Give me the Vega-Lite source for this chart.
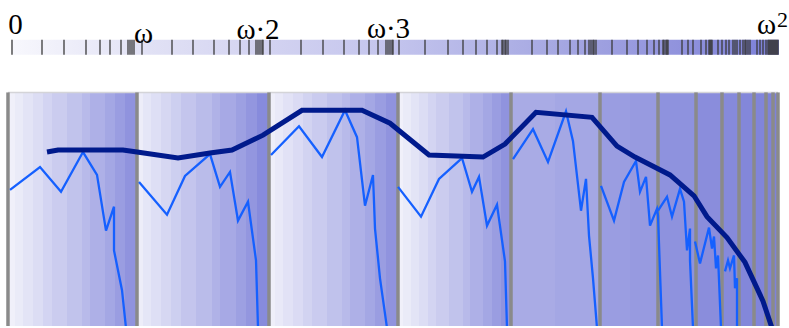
{
  "$schema": "https://vega.github.io/schema/vega-lite/v6.json",
  "width": 789,
  "height": 328,
  "autosize": {"type": "fit", "contains": "padding"},
  "padding": 0,
  "view": {"stroke": null},
  "datasets": {
    "stripes": [
      {"a": 10, "b": 15, "s": 0.03}, {"a": 15, "b": 23, "s": 0.08}, {"a": 23, "b": 33, "s": 0.14}, {"a": 33, "b": 43, "s": 0.2},
      {"a": 43, "b": 52, "s": 0.27}, {"a": 52, "b": 67, "s": 0.34}, {"a": 67, "b": 82, "s": 0.42}, {"a": 82, "b": 90, "s": 0.5},
      {"a": 90, "b": 105, "s": 0.58}, {"a": 105, "b": 115, "s": 0.66}, {"a": 115, "b": 125, "s": 0.74}, {"a": 125, "b": 136, "s": 0.83},
      {"a": 138, "b": 143, "s": 0.06}, {"a": 143, "b": 151, "s": 0.12}, {"a": 151, "b": 161, "s": 0.18}, {"a": 161, "b": 171, "s": 0.25},
      {"a": 171, "b": 181, "s": 0.32}, {"a": 181, "b": 196, "s": 0.4}, {"a": 196, "b": 212, "s": 0.48}, {"a": 212, "b": 220, "s": 0.56},
      {"a": 220, "b": 236, "s": 0.64}, {"a": 236, "b": 246, "s": 0.72}, {"a": 246, "b": 257, "s": 0.8}, {"a": 257, "b": 268, "s": 0.9},
      {"a": 270, "b": 275, "s": 0.04}, {"a": 275, "b": 283, "s": 0.09}, {"a": 283, "b": 293, "s": 0.15}, {"a": 293, "b": 303, "s": 0.21},
      {"a": 303, "b": 312, "s": 0.28}, {"a": 312, "b": 327, "s": 0.35}, {"a": 327, "b": 342, "s": 0.43}, {"a": 342, "b": 350, "s": 0.5},
      {"a": 350, "b": 365, "s": 0.58}, {"a": 365, "b": 375, "s": 0.66}, {"a": 375, "b": 386, "s": 0.74}, {"a": 386, "b": 397, "s": 0.83},
      {"a": 399, "b": 403, "s": 0.03}, {"a": 403, "b": 411, "s": 0.08}, {"a": 411, "b": 419, "s": 0.14}, {"a": 419, "b": 428, "s": 0.2},
      {"a": 428, "b": 436, "s": 0.27}, {"a": 436, "b": 449, "s": 0.34}, {"a": 449, "b": 463, "s": 0.42}, {"a": 463, "b": 470, "s": 0.5},
      {"a": 470, "b": 483, "s": 0.58}, {"a": 483, "b": 492, "s": 0.66}, {"a": 492, "b": 501, "s": 0.74}, {"a": 501, "b": 511, "s": 0.83},
      {"a": 511, "b": 555, "s": 0.62}, {"a": 555, "b": 600, "s": 0.66},
      {"a": 600, "b": 630, "s": 0.74}, {"a": 630, "b": 658, "s": 0.77},
      {"a": 658, "b": 696, "s": 0.84}, {"a": 696, "b": 722, "s": 0.88}, {"a": 722, "b": 739, "s": 0.91},
      {"a": 739, "b": 754, "s": 0.93}, {"a": 754, "b": 766, "s": 0.95}, {"a": 766, "b": 778, "s": 0.97}
    ],
    "topticks": [
      {"x": 12}, {"x": 42}, {"x": 64}, {"x": 86}, {"x": 100}, {"x": 110}, {"x": 121}, {"x": 128}, {"x": 130}, {"x": 132}, {"x": 134},
      {"x": 142}, {"x": 172}, {"x": 193}, {"x": 214}, {"x": 229}, {"x": 240}, {"x": 249}, {"x": 256}, {"x": 258}, {"x": 260}, {"x": 262}, {"x": 263},
      {"x": 270}, {"x": 301}, {"x": 323}, {"x": 344}, {"x": 359}, {"x": 369}, {"x": 378}, {"x": 386}, {"x": 388}, {"x": 390}, {"x": 392}, {"x": 393},
      {"x": 399}, {"x": 425}, {"x": 448}, {"x": 463}, {"x": 476}, {"x": 487}, {"x": 497}, {"x": 502}, {"x": 503}, {"x": 505}, {"x": 506},
      {"x": 508}, {"x": 532}, {"x": 547}, {"x": 558}, {"x": 570}, {"x": 578}, {"x": 585}, {"x": 589}, {"x": 591}, {"x": 593}, {"x": 594},
      {"x": 596}, {"x": 612}, {"x": 627}, {"x": 638}, {"x": 647}, {"x": 654}, {"x": 659}, {"x": 663}, {"x": 664}, {"x": 666}, {"x": 667},
      {"x": 668}, {"x": 682}, {"x": 688}, {"x": 693}, {"x": 701}, {"x": 706}, {"x": 709}, {"x": 710}, {"x": 711}, {"x": 712},
      {"x": 718}, {"x": 722}, {"x": 726}, {"x": 729}, {"x": 733}, {"x": 735}, {"x": 737},
      {"x": 740}, {"x": 743}, {"x": 745}, {"x": 746}, {"x": 748}, {"x": 750},
      {"x": 757}, {"x": 760}, {"x": 763}, {"x": 766}, {"x": 768}, {"x": 769}, {"x": 770}, {"x": 771}, {"x": 772}, {"x": 773}, {"x": 774}, {"x": 775}, {"x": 776}, {"x": 777}, {"x": 778}
    ],
    "grays": [
      {"x": 8}, {"x": 137}, {"x": 269}, {"x": 398}, {"x": 511}, {"x": 600}, {"x": 658}, {"x": 696}, {"x": 722}, {"x": 739}, {"x": 754}, {"x": 766}, {"x": 773}, {"x": 778}
    ],
    "thick": [
      {"i": 0, "x": 47, "y": 153}, {"i": 1, "x": 58, "y": 151}, {"i": 2, "x": 123, "y": 151}, {"i": 3, "x": 137, "y": 153},
      {"i": 4, "x": 178, "y": 159}, {"i": 5, "x": 210, "y": 154}, {"i": 6, "x": 232, "y": 151}, {"i": 7, "x": 263, "y": 136},
      {"i": 8, "x": 302, "y": 111}, {"i": 9, "x": 362, "y": 111}, {"i": 10, "x": 390, "y": 124}, {"i": 11, "x": 429, "y": 156},
      {"i": 12, "x": 483, "y": 158}, {"i": 13, "x": 505, "y": 145}, {"i": 14, "x": 536, "y": 113}, {"i": 15, "x": 592, "y": 118},
      {"i": 16, "x": 617, "y": 147}, {"i": 17, "x": 635, "y": 158}, {"i": 18, "x": 670, "y": 176}, {"i": 19, "x": 694, "y": 197},
      {"i": 20, "x": 707, "y": 218}, {"i": 21, "x": 727, "y": 239}, {"i": 22, "x": 745, "y": 264}, {"i": 23, "x": 763, "y": 303},
      {"i": 24, "x": 772, "y": 330}
    ],
    "thin": [
      {"seg": "A", "i": 0, "x": 10, "y": 191}, {"seg": "A", "i": 1, "x": 40, "y": 168}, {"seg": "A", "i": 2, "x": 61, "y": 193},
      {"seg": "A", "i": 3, "x": 83, "y": 153}, {"seg": "A", "i": 4, "x": 97, "y": 176}, {"seg": "A", "i": 5, "x": 106, "y": 232},
      {"seg": "A", "i": 6, "x": 114, "y": 208}, {"seg": "A", "i": 7, "x": 114, "y": 252}, {"seg": "A", "i": 8, "x": 122, "y": 292},
      {"seg": "A", "i": 9, "x": 126, "y": 330},
      {"seg": "B", "i": 0, "x": 139, "y": 183}, {"seg": "B", "i": 1, "x": 167, "y": 216}, {"seg": "B", "i": 2, "x": 185, "y": 177},
      {"seg": "B", "i": 3, "x": 210, "y": 155}, {"seg": "B", "i": 4, "x": 220, "y": 188}, {"seg": "B", "i": 5, "x": 230, "y": 173},
      {"seg": "B", "i": 6, "x": 238, "y": 222}, {"seg": "B", "i": 7, "x": 248, "y": 203}, {"seg": "B", "i": 8, "x": 256, "y": 262},
      {"seg": "B", "i": 9, "x": 258, "y": 330},
      {"seg": "C", "i": 0, "x": 271, "y": 156}, {"seg": "C", "i": 1, "x": 299, "y": 127}, {"seg": "C", "i": 2, "x": 322, "y": 158},
      {"seg": "C", "i": 3, "x": 345, "y": 111}, {"seg": "C", "i": 4, "x": 357, "y": 138}, {"seg": "C", "i": 5, "x": 365, "y": 207},
      {"seg": "C", "i": 6, "x": 373, "y": 176}, {"seg": "C", "i": 7, "x": 375, "y": 230}, {"seg": "C", "i": 8, "x": 380, "y": 280},
      {"seg": "C", "i": 9, "x": 387, "y": 330},
      {"seg": "D", "i": 0, "x": 398, "y": 188}, {"seg": "D", "i": 1, "x": 421, "y": 218}, {"seg": "D", "i": 2, "x": 439, "y": 180},
      {"seg": "D", "i": 3, "x": 462, "y": 159}, {"seg": "D", "i": 4, "x": 472, "y": 193}, {"seg": "D", "i": 5, "x": 479, "y": 178},
      {"seg": "D", "i": 6, "x": 487, "y": 227}, {"seg": "D", "i": 7, "x": 497, "y": 206}, {"seg": "D", "i": 8, "x": 505, "y": 263},
      {"seg": "D", "i": 9, "x": 507, "y": 330},
      {"seg": "E", "i": 0, "x": 513, "y": 160}, {"seg": "E", "i": 1, "x": 533, "y": 130}, {"seg": "E", "i": 2, "x": 548, "y": 163},
      {"seg": "E", "i": 3, "x": 566, "y": 112}, {"seg": "E", "i": 4, "x": 573, "y": 142}, {"seg": "E", "i": 5, "x": 581, "y": 212},
      {"seg": "E", "i": 6, "x": 586, "y": 180}, {"seg": "E", "i": 7, "x": 589, "y": 237}, {"seg": "E", "i": 8, "x": 593, "y": 280},
      {"seg": "E", "i": 9, "x": 597, "y": 330},
      {"seg": "F", "i": 0, "x": 601, "y": 187}, {"seg": "F", "i": 1, "x": 614, "y": 222}, {"seg": "F", "i": 2, "x": 624, "y": 183},
      {"seg": "F", "i": 3, "x": 636, "y": 162}, {"seg": "F", "i": 4, "x": 640, "y": 193}, {"seg": "F", "i": 5, "x": 646, "y": 178},
      {"seg": "F", "i": 6, "x": 650, "y": 227}, {"seg": "F", "i": 7, "x": 657, "y": 210}, {"seg": "F", "i": 8, "x": 658, "y": 217},
      {"seg": "F", "i": 9, "x": 662, "y": 330},
      {"seg": "G", "i": 0, "x": 658, "y": 212}, {"seg": "G", "i": 1, "x": 667, "y": 198}, {"seg": "G", "i": 2, "x": 672, "y": 218},
      {"seg": "G", "i": 3, "x": 680, "y": 190}, {"seg": "G", "i": 4, "x": 684, "y": 203}, {"seg": "G", "i": 5, "x": 687, "y": 252},
      {"seg": "G", "i": 6, "x": 690, "y": 230}, {"seg": "G", "i": 7, "x": 690, "y": 262}, {"seg": "G", "i": 8, "x": 693, "y": 330},
      {"seg": "H", "i": 0, "x": 695, "y": 243}, {"seg": "H", "i": 1, "x": 700, "y": 265}, {"seg": "H", "i": 2, "x": 709, "y": 229},
      {"seg": "H", "i": 3, "x": 712, "y": 250}, {"seg": "H", "i": 4, "x": 714, "y": 238}, {"seg": "H", "i": 5, "x": 716, "y": 270},
      {"seg": "H", "i": 6, "x": 718, "y": 257}, {"seg": "H", "i": 7, "x": 721, "y": 330},
      {"seg": "I", "i": 0, "x": 725, "y": 273}, {"seg": "I", "i": 1, "x": 728, "y": 262}, {"seg": "I", "i": 2, "x": 730, "y": 270},
      {"seg": "I", "i": 3, "x": 734, "y": 257}, {"seg": "I", "i": 4, "x": 735, "y": 290}, {"seg": "I", "i": 5, "x": 737, "y": 280},
      {"seg": "I", "i": 6, "x": 737, "y": 330}
    ],
    "labels": [
      {"x": 15.5, "y": 34, "t": "0"},
      {"x": 143.5, "y": 43, "t": "ω"},
      {"x": 258, "y": 39, "t": "ω·2"},
      {"x": 388.5, "y": 38.5, "t": "ω·3"},
      {"x": 766.5, "y": 34, "t": "ω"}
    ],
    "sup": [
      {"x": 782.5, "y": 27, "t": "2"}
    ]
  },
  "layer": [
    {
      "data": {"name": "stripes"},
      "mark": {"type": "rect"},
      "encoding": {
        "x": {"field": "a", "type": "quantitative", "scale": {"domain": [0, 789], "nice": false, "zero": false}, "axis": null},
        "x2": {"field": "b"},
        "y": {"datum": 93, "type": "quantitative", "scale": {"domain": [0, 328], "reverse": true, "nice": false, "zero": false}, "axis": null},
        "y2": {"datum": 328},
        "color": {"field": "s", "type": "quantitative", "scale": {"domain": [0, 1], "range": ["#f4f4fb", "#7b7fd8"], "interpolate": "rgb"}, "legend": null}
      }
    },
    {
      "data": {"values": [{"a": 8, "b": 778}]},
      "mark": {"type": "rule", "color": "#d4d4d8", "strokeWidth": 1.5},
      "encoding": {
        "x": {"field": "a", "type": "quantitative"},
        "x2": {"field": "b"},
        "y": {"datum": 93, "type": "quantitative"}
      }
    },
    {
      "data": {"name": "grays"},
      "mark": {"type": "rule", "color": "#8a8a8a", "strokeWidth": 3.5},
      "encoding": {
        "x": {"field": "x", "type": "quantitative"},
        "y": {"datum": 93, "type": "quantitative"},
        "y2": {"datum": 328}
      }
    },
    {
      "data": {"values": [{"a": 11, "b": 779}]},
      "mark": {
        "type": "rect",
        "color": {
          "gradient": "linear", "x1": 0, "x2": 1, "y1": 0, "y2": 0,
          "stops": [
            {"offset": 0, "color": "#f8f8fd"},
            {"offset": 0.17, "color": "#e2e2f5"},
            {"offset": 0.33, "color": "#d3d3f1"},
            {"offset": 0.5, "color": "#c3c4ed"},
            {"offset": 0.65, "color": "#aeb0e5"},
            {"offset": 0.76, "color": "#9fa1e0"},
            {"offset": 0.86, "color": "#9294dd"},
            {"offset": 1, "color": "#7b7fd8"}
          ]
        }
      },
      "encoding": {
        "x": {"field": "a", "type": "quantitative"},
        "x2": {"field": "b"},
        "y": {"datum": 40, "type": "quantitative"},
        "y2": {"datum": 55}
      }
    },
    {
      "data": {"name": "topticks"},
      "mark": {"type": "rule", "color": "#3a3a3a", "strokeWidth": 1.3},
      "encoding": {
        "x": {"field": "x", "type": "quantitative"},
        "y": {"datum": 40, "type": "quantitative"},
        "y2": {"datum": 55}
      }
    },
    {
      "data": {"name": "thin"},
      "mark": {"type": "line", "color": "#1560ff", "strokeWidth": 2.3, "clip": true},
      "encoding": {
        "x": {"field": "x", "type": "quantitative"},
        "y": {"field": "y", "type": "quantitative"},
        "detail": {"field": "seg", "type": "nominal"},
        "order": {"field": "i", "type": "quantitative"}
      }
    },
    {
      "data": {"name": "thick"},
      "mark": {"type": "line", "color": "#001a8c", "strokeWidth": 5, "clip": true},
      "encoding": {
        "x": {"field": "x", "type": "quantitative"},
        "y": {"field": "y", "type": "quantitative"},
        "order": {"field": "i", "type": "quantitative"}
      }
    },
    {
      "data": {"name": "labels"},
      "mark": {"type": "text", "font": "Liberation Serif", "fontSize": 29, "align": "center", "baseline": "alphabetic", "color": "#000000"},
      "encoding": {
        "x": {"field": "x", "type": "quantitative"},
        "y": {"field": "y", "type": "quantitative"},
        "text": {"field": "t", "type": "nominal"}
      }
    },
    {
      "data": {"name": "sup"},
      "mark": {"type": "text", "font": "Liberation Serif", "fontSize": 22, "align": "center", "baseline": "alphabetic", "color": "#000000"},
      "encoding": {
        "x": {"field": "x", "type": "quantitative"},
        "y": {"field": "y", "type": "quantitative"},
        "text": {"field": "t", "type": "nominal"}
      }
    }
  ]
}
